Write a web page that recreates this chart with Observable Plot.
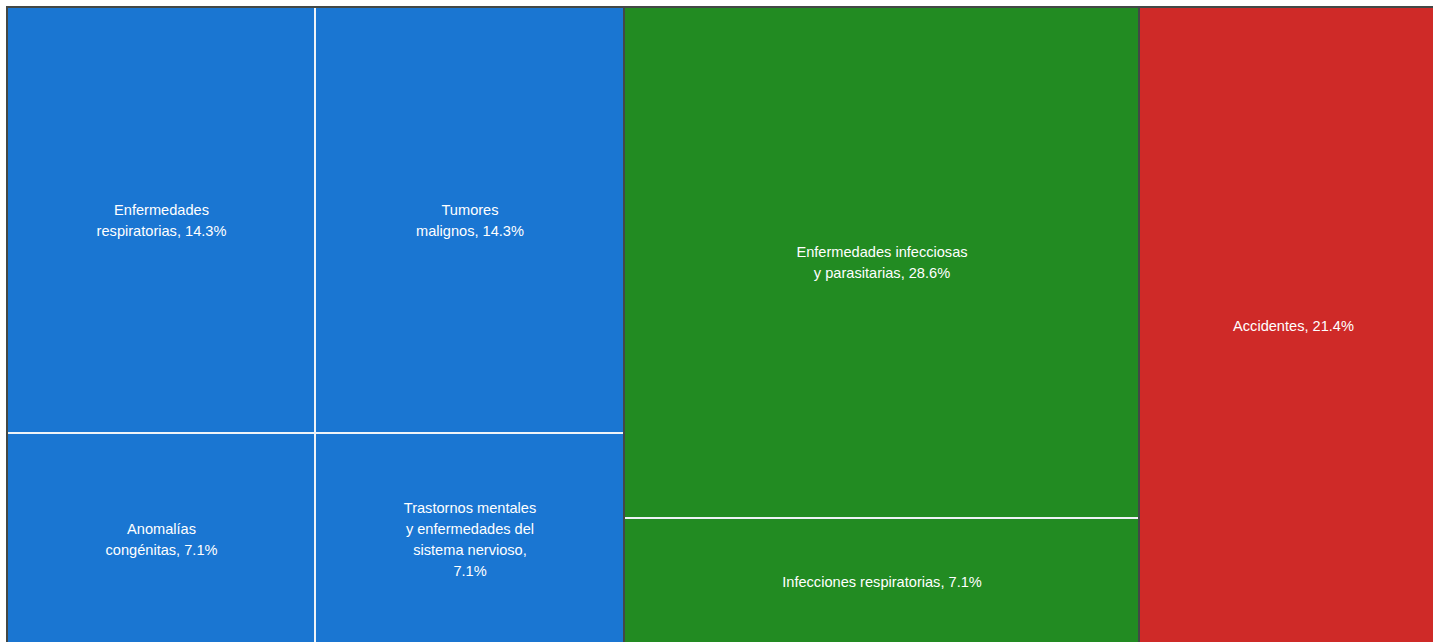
<!DOCTYPE html>
<html>
<head>
<meta charset="utf-8">
<script src="https://cdn.jsdelivr.net/npm/d3@7"></script>
<script src="https://cdn.jsdelivr.net/npm/@observablehq/plot@0.6"></script>
<style>
  html, body { margin: 0; padding: 0; background: #ffffff; overflow: hidden; }
  #chart { width: 1433px; height: 642px; overflow: hidden; }
</style>
</head>
<body>
<div id="chart"></div>
<script>
// Data
const groups = ["No transmisibles", "Transmisibles", "Lesiones"];
const groupColors = ["#1a76d2", "#228b22", "#cf2a28"];
const categories = [
  "Enfermedades respiratorias",
  "Tumores malignos",
  "Anomalías congénitas",
  "Trastornos mentales y enfermedades del sistema nervioso",
  "Enfermedades infecciosas y parasitarias",
  "Infecciones respiratorias",
  "Accidentes"
];
const categoryGroup = [0, 0, 0, 0, 1, 1, 2];
const values = [14.3, 14.3, 7.1, 7.1, 28.6, 7.1, 21.4];
const labels = [
  "Enfermedades\nrespiratorias, 14.3%",
  "Tumores\nmalignos, 14.3%",
  "Anomalías\ncongénitas, 7.1%",
  "Trastornos mentales\ny enfermedades del\nsistema nervioso,\n7.1%",
  "Enfermedades infecciosas\ny parasitarias, 28.6%",
  "Infecciones respiratorias, 7.1%",
  "Accidentes, 21.4%"
];

// Build hierarchy
const tree = {
  name: "root",
  children: groups.map((g, gi) => ({
    name: g,
    gi,
    children: categories
      .map((c, i) => ({ name: c, value: values[i], label: labels[i], gi: categoryGroup[i] }))
      .filter(d => d.gi === gi)
  }))
};

const W = 1438, H = 636;
const root = d3.hierarchy(tree).sum(d => d.value || 0);
d3.treemap().size([W, H]).tile(d3.treemapSquarify).paddingInner(2).round(true)(root);

const rootNode = [root];
const groupNodes = root.children;
const leaves = root.leaves();

const plot = Plot.plot({
  width: 1433,
  height: 642,
  margin: 0,
  style: { background: "transparent", overflow: "visible" },
  x: { domain: [0, W], range: [8, 8 + W], axis: null },
  y: { domain: [0, H], range: [8, 8 + H], axis: null },
  marks: [
    Plot.rect(rootNode, {
      x1: d => d.x0 - 2, x2: d => d.x1 + 2, y1: d => d.y0 - 2, y2: d => d.y1 + 2,
      fill: "#434846"
    }),
    Plot.rect(groupNodes, {
      x1: "x0", x2: "x1", y1: "y0", y2: "y1",
      fill: "#eef3f8"
    }),
    Plot.rect(leaves, {
      x1: "x0", x2: "x1", y1: "y0", y2: "y1",
      fill: d => groupColors[d.data.gi]
    }),
    Plot.text(leaves, {
      x: d => (d.x0 + d.x1) / 2,
      y: d => (d.y0 + d.y1) / 2,
      text: d => d.data.label,
      fill: "#ffffff",
      fontSize: 14.6,
      lineHeight: 1.44,
      dy: -2,
      fontFamily: "Liberation Sans, Arial, Helvetica, sans-serif",
      textAnchor: "middle"
    })
  ]
});

document.getElementById("chart").appendChild(plot);
</script>
</body>
</html>
